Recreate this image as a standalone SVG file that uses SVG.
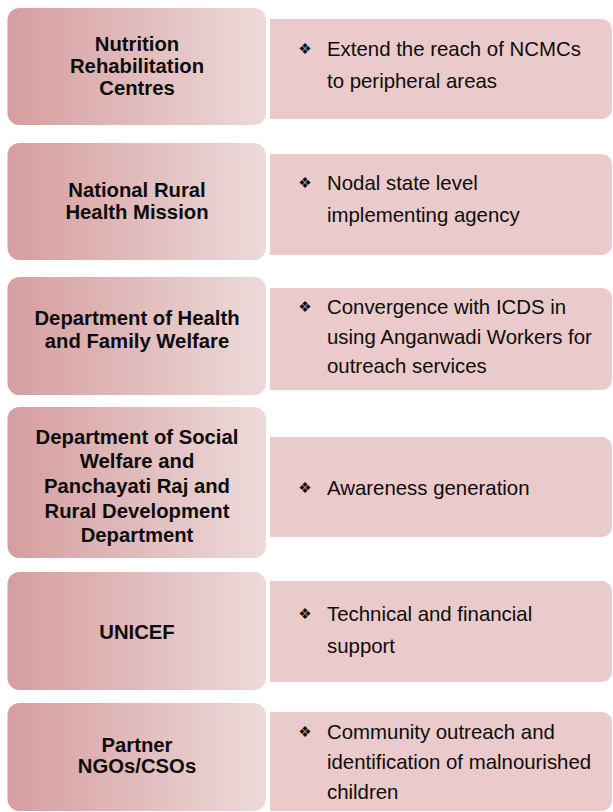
<svg xmlns="http://www.w3.org/2000/svg" width="613" height="812" viewBox="0 0 613 812">
  <defs>
    <!-- organisation boxes fade from rose on the left to pale pink on the right -->
    <linearGradient id="orgFill" x1="0" y1="0" x2="1" y2="0">
      <stop offset="0" stop-color="#d69d9f"/>
      <stop offset="1" stop-color="#eddada"/>
    </linearGradient>
  </defs>
  <style>
    .org { fill: url(#orgFill); }
    .role { fill: #eacaca; }
    .org-label { font-family: "Liberation Sans", Arial, sans-serif; font-weight: bold; font-size: 20.3px; fill: #0d0d0d; text-anchor: middle; }
    .role-text { font-family: "Liberation Sans", Arial, sans-serif; font-size: 20.4px; fill: #0d0d0d; }
    .bullet { font-family: "DejaVu Sans", sans-serif; font-size: 15px; fill: #0d0d0d; text-anchor: middle; }
  </style>

  <rect width="613" height="812" fill="#ffffff"/>

  <!-- Row 1 -->
  <g id="nrc">
    <rect class="org" x="7.5" y="8" width="258.5" height="117" rx="12"/>
    <text class="org-label" x="137" y="51">Nutrition</text>
    <text class="org-label" x="137" y="73">Rehabilitation</text>
    <text class="org-label" x="137" y="95">Centres</text>
  </g>
  <g id="nrc-role">
    <path class="role" d="M270 19H602A10 10 0 0 1 612 29V109A10 10 0 0 1 602 119H270Z"/>
    <text class="bullet" x="305" y="54">❖</text>
    <text class="role-text" x="327" y="56">Extend the reach of NCMCs</text>
    <text class="role-text" x="327" y="88">to peripheral areas</text>
  </g>

  <!-- Row 2 -->
  <g id="nrhm">
    <rect class="org" x="7.5" y="143" width="258.5" height="117" rx="12"/>
    <text class="org-label" x="137" y="197">National Rural</text>
    <text class="org-label" x="137" y="219">Health Mission</text>
  </g>
  <g id="nrhm-role">
    <path class="role" d="M270 154H602A10 10 0 0 1 612 164V245A10 10 0 0 1 602 255H270Z"/>
    <text class="bullet" x="305" y="188">❖</text>
    <text class="role-text" x="327" y="190">Nodal state level</text>
    <text class="role-text" x="327" y="222">implementing agency</text>
  </g>

  <!-- Row 3 -->
  <g id="dohfw">
    <rect class="org" x="7.5" y="277" width="258.5" height="118" rx="12"/>
    <text class="org-label" x="137" y="325">Department of Health</text>
    <text class="org-label" x="137" y="348">and Family Welfare</text>
  </g>
  <g id="dohfw-role">
    <path class="role" d="M270 288H602A10 10 0 0 1 612 298V380A10 10 0 0 1 602 390H270Z"/>
    <text class="bullet" x="305" y="312">❖</text>
    <text class="role-text" x="327" y="314">Convergence with ICDS in</text>
    <text class="role-text" x="327" y="344">using Anganwadi Workers for</text>
    <text class="role-text" x="327" y="373">outreach services</text>
  </g>

  <!-- Row 4 -->
  <g id="dosw-prrd">
    <rect class="org" x="7.5" y="407" width="258.5" height="151" rx="12"/>
    <text class="org-label" x="137" y="444">Department of Social</text>
    <text class="org-label" x="137" y="468">Welfare and</text>
    <text class="org-label" x="137" y="493">Panchayati Raj and</text>
    <text class="org-label" x="137" y="518">Rural Development</text>
    <text class="org-label" x="137" y="542">Department</text>
  </g>
  <g id="dosw-prrd-role">
    <path class="role" d="M270 437H602A10 10 0 0 1 612 447V527A10 10 0 0 1 602 537H270Z"/>
    <text class="bullet" x="305" y="493">❖</text>
    <text class="role-text" x="327" y="495">Awareness generation</text>
  </g>

  <!-- Row 5 -->
  <g id="unicef">
    <rect class="org" x="7.5" y="572" width="258.5" height="118" rx="12"/>
    <text class="org-label" x="137" y="639">UNICEF</text>
  </g>
  <g id="unicef-role">
    <path class="role" d="M270 581H602A10 10 0 0 1 612 591V672A10 10 0 0 1 602 682H270Z"/>
    <text class="bullet" x="305" y="619">❖</text>
    <text class="role-text" x="327" y="621">Technical and financial</text>
    <text class="role-text" x="327" y="653">support</text>
  </g>

  <!-- Row 6 -->
  <g id="ngos">
    <rect class="org" x="7.5" y="703" width="258.5" height="108" rx="12"/>
    <text class="org-label" x="137" y="752">Partner</text>
    <text class="org-label" x="137" y="773">NGOs/CSOs</text>
  </g>
  <g id="ngos-role">
    <path class="role" d="M270 712H602A10 10 0 0 1 612 722V801A10 10 0 0 1 602 811H270Z"/>
    <text class="bullet" x="305" y="737">❖</text>
    <text class="role-text" x="327" y="739">Community outreach and</text>
    <text class="role-text" x="327" y="769">identification of malnourished</text>
    <text class="role-text" x="327" y="799">children</text>
  </g>
</svg>
